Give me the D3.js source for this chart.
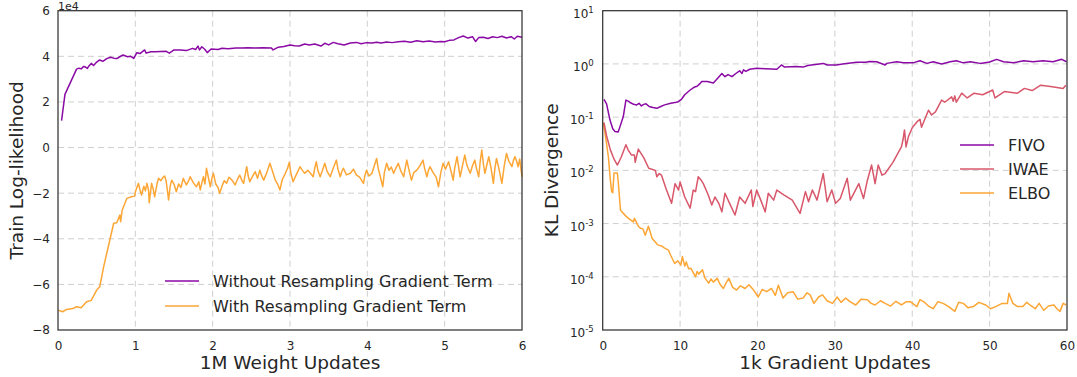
<!DOCTYPE html>
<html>
<head>
<meta charset="utf-8">
<script src="https://cdn.jsdelivr.net/npm/d3@7/dist/d3.min.js"></script>
<style>
  body { margin: 0; background: #fff; }
  text { font-family: "DejaVu Sans", sans-serif; fill: #262626; }
</style>
</head>
<body>
<div id="chart"></div>
<script>
// ---- left panel data: x in 1M updates, y in units of 1e4 ----
const leftXTicks = [0, 1, 2, 3, 4, 5, 6];
const leftYTicks = [-8, -6, -4, -2, 0, 2, 4, 6];
const leftLabels = ['Without Resampling Gradient Term', 'With Resampling Gradient Term'];

const withoutResampling = [
  [0.046,1.18],[0.09,2.33],[0.24,3.44],[0.27,3.48],[0.30,3.45],[0.33,3.55],[0.35,3.54],[0.38,3.47],
  [0.40,3.58],[0.43,3.69],[0.46,3.6],[0.50,3.75],[0.54,3.84],[0.58,3.78],[0.63,3.9],[0.68,3.96],
  [0.72,3.92],[0.76,3.9],[0.80,3.98],[0.84,4.06],[0.90,3.98],[0.94,4.0],[0.98,3.91],[1.02,4.16],
  [1.06,4.12],[1.12,4.28],[1.14,4.14],[1.2,4.2],[1.26,4.2],[1.33,4.21],[1.40,4.22],[1.44,4.14],
  [1.5,4.28],[1.58,4.28],[1.66,4.25],[1.74,4.35],[1.78,4.3],[1.81,4.45],[1.83,4.28],[1.86,4.42],
  [1.9,4.3],[1.93,4.16],[1.98,4.32],[2.07,4.3],[2.12,4.35],[2.2,4.33],[2.3,4.36],[2.38,4.36],
  [2.45,4.38],[2.55,4.36],[2.65,4.38],[2.76,4.36],[2.78,4.28],[2.85,4.4],[2.92,4.43],[3.0,4.5],
  [3.06,4.46],[3.12,4.45],[3.19,4.54],[3.25,4.5],[3.32,4.54],[3.4,4.45],[3.45,4.57],[3.5,4.5],
  [3.56,4.61],[3.62,4.55],[3.7,4.5],[3.78,4.58],[3.86,4.61],[3.92,4.55],[3.99,4.6],[4.06,4.58],
  [4.12,4.62],[4.18,4.58],[4.25,4.63],[4.32,4.6],[4.4,4.64],[4.48,4.66],[4.56,4.62],[4.64,4.68],
  [4.72,4.64],[4.8,4.67],[4.88,4.63],[4.95,4.65],[5.0,4.64],[5.06,4.7],[5.12,4.72],[5.18,4.82],
  [5.24,4.89],[5.3,4.8],[5.36,4.86],[5.4,4.65],[5.44,4.82],[5.5,4.84],[5.56,4.78],[5.62,4.86],
  [5.68,4.82],[5.74,4.88],[5.8,4.8],[5.86,4.86],[5.9,4.76],[5.94,4.88],[6.0,4.84]
];

const withResampling = [
  [0,-7.13],[0.06,-7.2],[0.11,-7.1],[0.19,-7.06],[0.24,-6.98],[0.3,-7.02],[0.37,-6.76],[0.43,-6.7],
  [0.5,-6.25],[0.54,-6.1],[0.59,-5.23],[0.65,-4.35],[0.72,-3.32],[0.76,-3.3],[0.8,-2.96],[0.81,-3.25],
  [0.83,-2.74],[0.89,-2.23],[0.95,-2.16],[0.99,-2.13],
  [1.00,-1.95],[1.02,-1.75],[1.04,-1.57],[1.06,-1.85],[1.08,-2.08],[1.11,-1.7],[1.13,-1.9],[1.15,-1.57],
  [1.17,-1.85],[1.18,-2.42],[1.21,-1.57],[1.23,-1.8],[1.25,-2.16],[1.28,-1.6],[1.30,-1.35],[1.33,-1.45],
  [1.36,-1.3],[1.38,-1.25],[1.40,-1.5],[1.43,-2.30],[1.45,-1.7],[1.47,-1.43],[1.50,-1.6],[1.53,-1.94],
  [1.56,-1.6],[1.59,-1.75],[1.62,-1.35],[1.64,-1.5],[1.66,-1.64],[1.69,-1.45],[1.71,-1.28],[1.75,-1.55],
  [1.79,-1.72],[1.82,-1.5],[1.84,-1.86],[1.86,-1.55],[1.88,-1.28],[1.90,-1.6],[1.92,-0.91],[1.95,-1.4],
  [1.97,-1.72],[1.99,-1.35],[2.01,-1.13],[2.04,-1.6],[2.07,-1.75],[2.09,-2.01],[2.12,-1.7],[2.15,-1.45],
  [2.18,-1.57],[2.21,-1.3],[2.25,-1.43],[2.29,-1.64],[2.32,-1.4],[2.35,-1.21],[2.38,-1.45],[2.40,-1.57],
  [2.42,-1.2],[2.44,-0.84],[2.46,-1.25],[2.48,-1.50],[2.51,-1.3],[2.55,-1.06],[2.58,-1.35],[2.61,-0.99],
  [2.63,-1.2],[2.66,-1.43],[2.70,-1.1],[2.74,-0.69],[2.77,-1.0],[2.81,-1.43],[2.84,-1.6],[2.87,-1.86],
  [2.90,-1.4],[2.94,-1.13],[2.97,-0.9],[2.99,-0.65],[3.01,-1.1],[3.04,-1.50],[3.08,-1.2],[3.13,-0.84],
  [3.16,-1.0],[3.19,-1.13],[3.23,-1.0],[3.27,-1.15],[3.30,-1.28],[3.32,-0.9],[3.34,-0.62],[3.36,-1.0],
  [3.39,-1.28],[3.42,-1.0],[3.45,-0.69],[3.48,-1.05],[3.52,-1.28],[3.56,-0.9],[3.60,-0.55],[3.62,-0.95],
  [3.65,-1.28],[3.67,-1.05],[3.69,-0.91],[3.73,-1.2],[3.78,-1.13],[3.82,-0.95],[3.86,-1.21],[3.90,-1.3],
  [3.95,-1.57],[3.97,-1.2],[3.99,-0.99],[4.02,-1.25],[4.06,-1.13],[4.09,-0.8],[4.12,-0.48],[4.14,-0.9],
  [4.17,-1.3],[4.20,-1.72],[4.22,-1.1],[4.25,-0.69],[4.28,-1.0],[4.31,-0.85],[4.34,-1.13],[4.37,-0.9],
  [4.40,-0.69],[4.43,-1.0],[4.47,-1.28],[4.49,-0.9],[4.51,-0.55],[4.54,-1.0],[4.57,-1.43],[4.60,-1.1],
  [4.64,-0.99],[4.68,-0.8],[4.72,-0.55],[4.74,-0.9],[4.77,-1.28],[4.79,-1.0],[4.81,-0.84],[4.85,-1.1],
  [4.89,-1.3],[4.92,-1.72],[4.95,-1.1],[4.98,-0.69],[5.01,-0.95],[5.05,-0.62],[5.08,-1.0],[5.11,-1.43],
  [5.13,-0.9],[5.16,-0.40],[5.18,-0.85],[5.20,-1.28],[5.23,-0.8],[5.26,-0.33],[5.29,-0.8],[5.33,-1.13],
  [5.36,-0.8],[5.39,-0.55],[5.41,-0.9],[5.44,-1.28],[5.46,-0.6],[5.48,-0.11],[5.50,-0.7],[5.52,-1.13],
  [5.55,-0.7],[5.57,-0.40],[5.60,-0.9],[5.63,-1.57],[5.65,-0.9],[5.67,-0.48],[5.70,-0.9],[5.74,-1.57],
  [5.77,-0.8],[5.80,-0.26],[5.83,-0.6],[5.87,-0.84],[5.89,-0.55],[5.91,-0.40],[5.93,-0.6],[5.95,-0.84],
  [5.97,-0.5],[6.0,-1.28]
];

// ---- right panel data: x in 1k updates, y as log10(KL) ----
const rightXTicks = [0, 10, 20, 30, 40, 50, 60];
const rightYExps = [-5, -4, -3, -2, -1, 0, 1];
const rightLabels = ['FIVO', 'IWAE', 'ELBO'];

const fivoLog = [
  [0.17,-0.665],[0.5,-0.75],[0.94,-1.055],[1.3,-1.22],[1.59,-1.27],[2.0,-1.28],[2.3,-1.15],[2.66,-0.99],
  [3.0,-0.68],[3.3,-0.7],[3.6,-0.73],[4.0,-0.76],[4.4,-0.77],[4.7,-0.74],[5.0,-0.79],[5.3,-0.76],
  [5.6,-0.75],[6.0,-0.8],[6.5,-0.82],[7.0,-0.835],[7.5,-0.8],[8.0,-0.77],[8.8,-0.74],[9.5,-0.72],
  [9.77,-0.71],[10.2,-0.66],[10.6,-0.58],[11.3,-0.49],[11.8,-0.44],[12.2,-0.42],[12.5,-0.38],[12.8,-0.33],
  [13.5,-0.33],[14.3,-0.36],[14.8,-0.28],[15.4,-0.18],[15.8,-0.24],[16.2,-0.2],[16.7,-0.24],[17.2,-0.18],
  [17.7,-0.13],[18.0,-0.18],[18.2,-0.11],[18.5,-0.14],[19.0,-0.1],[19.9,-0.08],[21,-0.09],[22.5,-0.1],
  [23.1,-0.02],[23.5,-0.06],[25,-0.05],[25.9,-0.06],[26.5,-0.03],[28.5,0.01],[29,-0.02],[30.2,-0.02],
  [31,0.0],[32.8,0.03],[34.0,0.03],[34.5,0.045],[35.4,0.04],[36.5,-0.02],[36.7,0.01],[38.0,0.04],
  [38.85,0.02],[40.1,0.02],[41.0,0.06],[41.9,0.01],[42.7,0.04],[43.8,0.0],[44.9,0.04],[45.7,0.06],
  [46.6,0.02],[47.5,0.04],[48.8,0.01],[50.0,0.035],[50.9,0.086],[51.8,0.04],[53.1,0.02],[54.4,0.06],
  [55.6,0.04],[56.9,0.06],[58.2,0.04],[59.3,0.086],[59.95,0.04]
];

const iwaeLog = [
  [0.17,-1.105],[0.5,-1.35],[1.0,-1.62],[1.5,-1.8],[1.9,-1.9],[2.4,-1.75],[3.0,-1.52],[3.3,-1.62],
  [3.7,-1.71],[4.1,-1.71],[4.2,-1.85],[4.6,-1.6],[5.3,-1.76],[5.95,-1.96],[6.8,-2.0],[7.0,-2.12],
  [7.3,-2.06],[7.6,-2.09],[8.2,-2.35],[8.9,-2.62],[9.35,-2.25],[9.8,-2.37],[10.0,-2.22],[10.6,-2.5],
  [11.3,-2.71],[11.7,-2.37],[12.0,-2.4],[12.35,-2.12],[12.7,-2.18],[13.0,-2.25],[13.6,-2.45],[14.1,-2.65],
  [14.5,-2.5],[15.0,-2.62],[15.4,-2.78],[15.8,-2.43],[16.4,-2.62],[17.1,-2.84],[17.7,-2.5],[18.4,-2.62],
  [19.2,-2.37],[19.4,-2.68],[19.9,-2.37],[20.4,-2.55],[21.0,-2.78],[21.4,-2.43],[22.1,-2.56],[22.5,-2.37],
  [23.4,-2.46],[24.5,-2.56],[25.5,-2.81],[26.2,-2.40],[26.6,-2.59],[27.1,-2.37],[27.7,-2.56],[28.5,-2.06],
  [29.0,-2.59],[29.6,-2.37],[30.1,-2.62],[30.7,-2.53],[31.6,-2.15],[32.0,-2.56],[33.1,-2.25],[33.7,-2.53],
  [34.2,-2.19],[34.75,-1.90],[35.2,-2.25],[35.6,-1.90],[36.1,-2.09],[36.5,-2.06],[37.5,-1.85],[38.6,-1.56],
  [38.8,-1.43],[39.0,-1.24],[39.2,-1.56],[39.5,-1.37],[40.0,-1.2],[40.6,-1.09],[41.0,-1.04],[41.2,-1.19],
  [42.1,-0.87],[42.5,-0.96],[43.0,-0.9],[43.8,-0.68],[44.2,-0.72],[45.1,-0.62],[45.3,-0.7],[45.5,-0.6],
  [45.7,-0.72],[46.4,-0.55],[47.1,-0.64],[48.0,-0.55],[49.1,-0.58],[50.4,-0.49],[50.7,-0.64],[51.9,-0.52],
  [53.6,-0.55],[54.5,-0.46],[55.5,-0.5],[56.6,-0.40],[58.1,-0.43],[59.5,-0.46],[59.85,-0.4]
];

const elboLog = [
  [0.08,-1.105],[0.4,-1.4],[0.73,-1.74],[1.0,-2.2],[1.16,-2.40],[1.3,-2.42],[1.46,-2.05],[1.89,-2.05],
  [2.0,-2.2],[2.3,-2.75],[3.0,-2.86],[3.5,-2.92],[3.96,-2.97],[4.1,-2.9],[4.3,-2.96],[4.6,-3.05],
  [4.9,-3.09],[5.2,-3.1],[5.5,-3.22],[5.9,-3.05],[6.4,-3.28],[7.1,-3.40],[7.6,-3.42],[8.0,-3.46],
  [8.5,-3.5],[8.8,-3.6],[9.3,-3.75],[9.7,-3.7],[10.1,-3.78],[10.3,-3.62],[10.6,-3.8],[10.8,-3.72],
  [11.1,-3.85],[11.4,-3.84],[11.7,-3.92],[12.0,-4.0],[12.2,-3.9],[12.4,-3.95],[12.9,-3.87],[13.2,-4.02],
  [13.7,-4.12],[14.0,-4.04],[14.3,-4.1],[14.8,-4.03],[15.2,-4.15],[15.6,-4.22],[16.0,-4.1],[16.3,-4.03],
  [16.8,-4.2],[17.3,-4.25],[17.8,-4.17],[18.4,-4.22],[18.9,-4.15],[19.5,-4.25],[20.1,-4.38],[20.6,-4.24],
  [21.2,-4.28],[21.8,-4.22],[22.3,-4.35],[22.7,-4.16],[23.3,-4.4],[23.9,-4.3],[24.6,-4.28],[25.2,-4.42],
  [25.9,-4.4],[26.4,-4.3],[26.8,-4.34],[27.3,-4.50],[27.9,-4.38],[28.4,-4.34],[29.0,-4.45],[29.7,-4.5],
  [30.3,-4.38],[30.8,-4.48],[31.4,-4.4],[32.0,-4.47],[32.7,-4.53],[33.4,-4.42],[34.2,-4.43],[34.7,-4.5],
  [35.2,-4.53],[35.9,-4.45],[36.5,-4.5],[37.2,-4.55],[37.9,-4.46],[38.6,-4.53],[39.2,-4.47],[39.8,-4.47],
  [40.6,-4.56],[41.0,-4.43],[41.5,-4.47],[42.1,-4.55],[42.7,-4.6],[43.3,-4.47],[44.0,-4.5],[44.7,-4.56],
  [45.5,-4.65],[46.0,-4.48],[46.6,-4.5],[47.2,-4.58],[47.9,-4.56],[48.6,-4.48],[49.5,-4.53],[50.1,-4.6],
  [50.8,-4.56],[51.6,-4.5],[52.3,-4.5],[52.5,-4.31],[53.0,-4.5],[53.6,-4.56],[54.3,-4.56],[54.8,-4.48],
  [55.2,-4.53],[55.9,-4.6],[56.4,-4.5],[57.0,-4.63],[57.6,-4.55],[58.3,-4.53],[58.7,-4.6],[59.1,-4.65],
  [59.5,-4.5],[59.9,-4.53]
];

const colors = { purple: '#8b0aa5', pink: '#d8576b', orange: '#fca636' };

const W = 1077, H = 377;
const svg = d3.select('#chart').append('svg')
  .attr('width', W).attr('height', H)
  .attr('viewBox', `0 0 ${W} ${H}`);

function drawGrid(g, x, y, xTicks, yTicks, box) {
  g.append('g').selectAll('line').data(xTicks.slice(1, -1)).join('line')
    .attr('x1', d => x(d)).attr('x2', d => x(d))
    .attr('y1', box.top).attr('y2', box.bottom)
    .attr('stroke', '#cfcfcf').attr('stroke-width', 1).attr('stroke-dasharray', '6,4');
  g.append('g').selectAll('line').data(yTicks.slice(1, -1)).join('line')
    .attr('y1', d => y(d)).attr('y2', d => y(d))
    .attr('x1', box.left).attr('x2', box.right)
    .attr('stroke', '#cfcfcf').attr('stroke-width', 1).attr('stroke-dasharray', '6,4');
}

function drawFrame(g, box) {
  g.append('rect')
    .attr('x', box.left).attr('y', box.top)
    .attr('width', box.right - box.left).attr('height', box.bottom - box.top)
    .attr('fill', 'none').attr('stroke', '#333').attr('stroke-width', 1.25);
}

// ---------------- left panel ----------------
const L = { left: 58, right: 522, top: 10.7, bottom: 330 };
const xL = d3.scaleLinear().domain([0, 6]).range([L.left, L.right]);
const yL = d3.scaleLinear().domain([-8, 6]).range([L.bottom, L.top]);
const gL = svg.append('g');
drawGrid(gL, xL, yL, leftXTicks, leftYTicks, L);

const lineL = d3.line().x(d => xL(d[0])).y(d => yL(d[1]));
gL.append('path').datum(withResampling).attr('d', lineL)
  .attr('fill', 'none').attr('stroke', colors.orange).attr('stroke-width', 1.5).attr('stroke-linejoin', 'round');
gL.append('path').datum(withoutResampling).attr('d', lineL)
  .attr('fill', 'none').attr('stroke', colors.purple).attr('stroke-width', 1.5).attr('stroke-linejoin', 'round');

const axLx = gL.append('g').attr('transform', `translate(0,${L.bottom})`)
  .call(d3.axisBottom(xL).tickValues(leftXTicks).tickSize(0).tickPadding(11).tickFormat(d3.format('d')));
const axLy = gL.append('g').attr('transform', `translate(${L.left},0)`)
  .call(d3.axisLeft(yL).tickValues(leftYTicks).tickSize(0).tickPadding(8)
    .tickFormat(d => d < 0 ? '\u2212' + Math.abs(d) : String(d)));
[axLx, axLy].forEach(a => {
  a.select('.domain').remove();
  a.selectAll('text').attr('font-size', 12).attr('fill', '#262626')
    .attr('font-family', '"DejaVu Sans", sans-serif');
});
drawFrame(gL, L);

gL.append('text').attr('x', L.left).attr('y', 9.5).attr('font-size', 11).text('1e4');
gL.append('text').attr('x', (L.left + L.right) / 2).attr('y', 369)
  .attr('text-anchor', 'middle').attr('font-size', 18.5).text('1M Weight Updates');
gL.append('text').attr('transform', `translate(23,${(L.top + L.bottom) / 2}) rotate(-90)`)
  .attr('text-anchor', 'middle').attr('font-size', 18.5).text('Train Log-likelihood');

const legL = gL.append('g');
[[colors.purple, leftLabels[0]], [colors.orange, leftLabels[1]]].forEach(([c, t], i) => {
  const yy = 281 + i * 25;
  legL.append('line').attr('x1', 165).attr('x2', 199).attr('y1', yy).attr('y2', yy)
    .attr('stroke', c).attr('stroke-width', 1.5);
  legL.append('text').attr('x', 213).attr('y', yy).attr('dy', '0.35em')
    .attr('font-size', 16).text(t);
});

// ---------------- right panel ----------------
const R = { left: 602.7, right: 1067, top: 10.7, bottom: 330 };
const xR = d3.scaleLinear().domain([0, 60]).range([R.left, R.right]);
const yR = d3.scaleLog().domain([1e-5, 10]).range([R.bottom, R.top]);
const yTicksR = rightYExps.map(e => Math.pow(10, e));
const gR = svg.append('g');
drawGrid(gR, xR, yR, rightXTicks, yTicksR, R);

const lineR = d3.line().x(d => xR(d[0])).y(d => yR(Math.pow(10, d[1])));
[[elboLog, colors.orange], [iwaeLog, colors.pink], [fivoLog, colors.purple]].forEach(([data, c]) => {
  gR.append('path').datum(data).attr('d', lineR)
    .attr('fill', 'none').attr('stroke', c).attr('stroke-width', 1.5).attr('stroke-linejoin', 'round');
});

const axRx = gR.append('g').attr('transform', `translate(0,${R.bottom})`)
  .call(d3.axisBottom(xR).tickValues(rightXTicks).tickSize(0).tickPadding(11).tickFormat(d3.format('d')));
axRx.select('.domain').remove();
axRx.selectAll('text').attr('font-size', 12).attr('fill', '#262626')
  .attr('font-family', '"DejaVu Sans", sans-serif');

const axRy = gR.append('g').attr('transform', `translate(${R.left},0)`)
  .call(d3.axisLeft(yR).tickValues(yTicksR).tickSize(0).tickPadding(9).tickFormat(() => ''));
axRy.select('.domain').remove();
axRy.selectAll('.tick text').each(function(d) {
  const e = Math.round(Math.log10(d));
  const t = d3.select(this).attr('font-size', 12).attr('fill', '#262626')
    .attr('font-family', '"DejaVu Sans", sans-serif').attr('dy', '0.55em');
  t.append('tspan').text('10');
  t.append('tspan').attr('dy', '-0.6em').attr('font-size', 8.5).text(e < 0 ? '-' + Math.abs(e) : String(e));
});
drawFrame(gR, R);

gR.append('text').attr('x', (R.left + R.right) / 2).attr('y', 369)
  .attr('text-anchor', 'middle').attr('font-size', 18.5).text('1k Gradient Updates');
gR.append('text').attr('transform', `translate(558,${(R.top + R.bottom) / 2}) rotate(-90)`)
  .attr('text-anchor', 'middle').attr('font-size', 18.5).text('KL Divergence');

const legR = gR.append('g');
[[colors.purple, rightLabels[0]], [colors.pink, rightLabels[1]], [colors.orange, rightLabels[2]]].forEach(([c, t], i) => {
  const yy = 145 + i * 24;
  legR.append('line').attr('x1', 960).attr('x2', 994).attr('y1', yy).attr('y2', yy)
    .attr('stroke', c).attr('stroke-width', 1.5);
  legR.append('text').attr('x', 1008).attr('y', yy).attr('dy', '0.35em')
    .attr('font-size', 16).text(t);
});
</script>
</body>
</html>
